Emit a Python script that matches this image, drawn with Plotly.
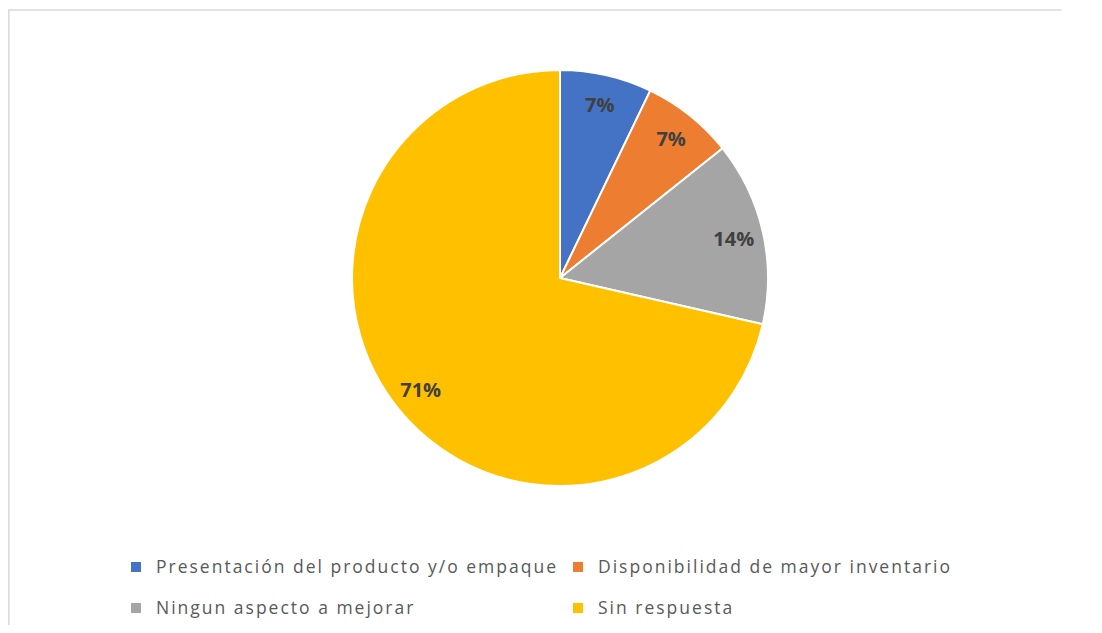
import plotly.graph_objects as go

categorias = ["Presentación del producto y/o empaque", "Disponibilidad de mayor inventario",
              "Ningun aspecto a mejorar", "Sin respuesta"]
respuestas = [1, 1, 2, 10]
colores = ["#4472C4", "#ED7D31", "#A5A5A5", "#FFC000"]

# page body has an 8px margin, so the figure is a bit smaller than the window
W, H = 1086, 617
OFF = 8
cx, cy, R = 560 - OFF, 278 - OFF, 208
dom_x = [(cx - R) / W, (cx + R) / W]
dom_y = [1 - (cy + R) / H, 1 - (cy - R) / H]

# legend text bigger than the legend line box; first row gets an empty second line to space the rows
etiquetas_legenda = []
for i, c in enumerate(categorias):
    txt = "<span style='font-size:17.5px;letter-spacing:2px'>" + c + "</span>"
    if i < 2:
        txt += "<br>\u00a0"
    etiquetas_legenda.append(txt)

fig = go.Figure()
fig.add_trace(go.Pie(
    labels=etiquetas_legenda, values=respuestas, sort=False, direction="clockwise", rotation=0,
    domain=dict(x=dom_x, y=dom_y), textinfo="none", hoverinfo="skip",
    marker=dict(colors=colores, line=dict(color="white", width=2)),
))
# transparent ring on top only to put the percentages near the rim, like Excel does
fig.add_trace(go.Pie(
    labels=etiquetas_legenda, values=respuestas, sort=False, direction="clockwise", rotation=0,
    domain=dict(x=dom_x, y=dom_y), hole=0.714, showlegend=False, hoverinfo="skip",
    marker=dict(colors=["rgba(0,0,0,0)"] * len(respuestas), line=dict(width=0)),
    texttemplate="%{percent:.0%}", textposition="inside", insidetextorientation="horizontal",
    textfont=dict(family="Open Sans", size=20, color="#404040", weight="bold"),
))

fig.update_layout(
    width=W, height=H, margin=dict(l=0, r=0, t=0, b=0),
    paper_bgcolor="white", plot_bgcolor="white",
    legend=dict(orientation="h", x=(116 - OFF) / W, xanchor="left", y=1 - (551 - OFF) / H, yanchor="top",
                entrywidth=397, entrywidthmode="pixels", valign="top",
                font=dict(family="Open Sans", size=14.6, color="#595959"),
                bgcolor="rgba(0,0,0,0)", borderwidth=0),
    shapes=[
        dict(type="line", xref="paper", yref="paper", x0=0, x1=0.97, y0=1 - 2 / H, y1=1 - 2 / H,
             line=dict(color="#d9d9d9", width=1.5), layer="below"),
        dict(type="line", xref="paper", yref="paper", x0=0.0008, x1=0.0008, y0=0, y1=1 - 2 / H,
             line=dict(color="#d9d9d9", width=1.5), layer="below"),
    ],
)

fig.write_html("out.html")
